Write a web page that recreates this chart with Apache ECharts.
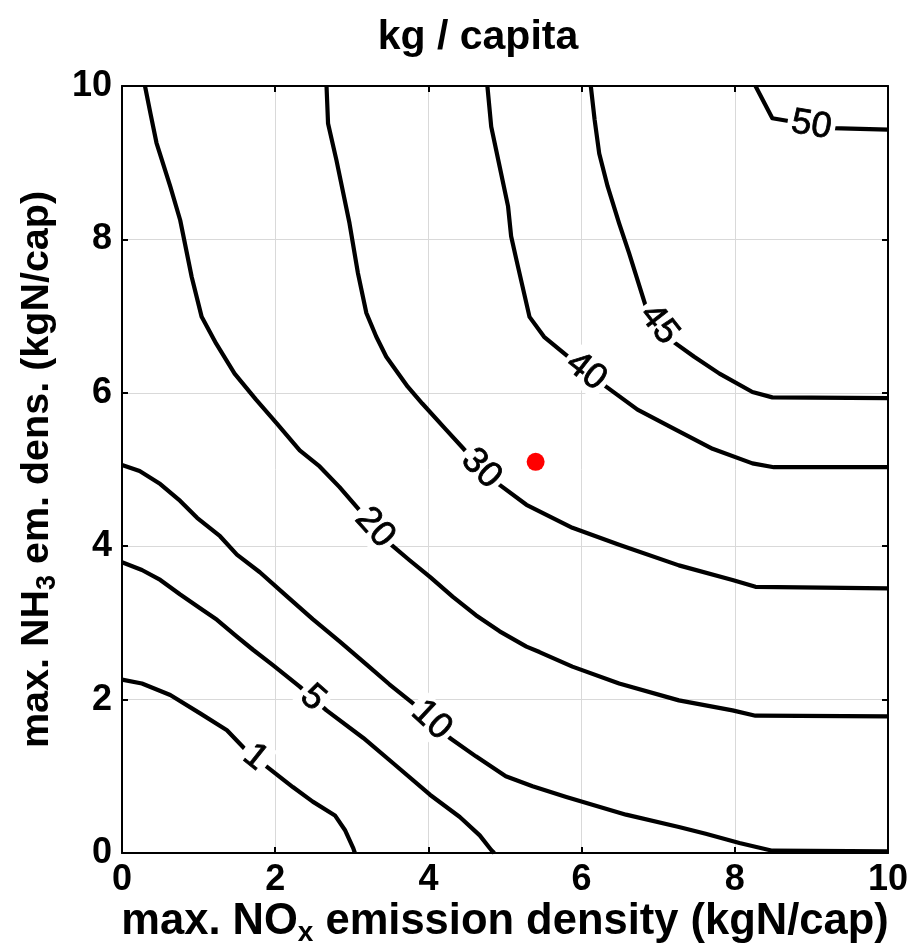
<!DOCTYPE html>
<html>
<head>
<meta charset="utf-8">
<script src="https://cdn.jsdelivr.net/npm/echarts@6.0.0/dist/echarts.min.js"></script>
<style>
html,body{margin:0;padding:0;background:#fff;overflow:hidden;}
#chart{width:916px;height:946px;}
</style>
</head>
<body>
<div id="chart"></div>
<script>
// ---- data ----
const xTicks = [0, 2, 4, 6, 8, 10];
const yTicks = [0, 2, 4, 6, 8, 10];
const levels = ['1', '5', '10', '20', '30', '40', '45', '50'];

const c1 = [[0,2.26],[0.26,2.21],[0.63,2.06],[1.02,1.82],[1.37,1.60],[1.62,1.34],[1.74,1.25],[1.86,1.15],[2.23,0.86],[2.49,0.67],[2.78,0.49],[2.91,0.30],[3.02,0.06],[3.04,0]];
const c5 = [[0,3.79],[0.26,3.69],[0.50,3.56],[0.76,3.37],[1.02,3.19],[1.24,3.04],[1.50,2.82],[1.71,2.65],[1.97,2.45],[2.32,2.17],[2.49,2.02],[2.67,1.86],[3.15,1.50],[3.54,1.17],[4.02,0.76],[4.41,0.47],[4.67,0.23],[4.82,0.04],[4.86,0]];
const c10 = [[0,5.06],[0.23,4.98],[0.50,4.81],[0.76,4.59],[0.98,4.37],[1.28,4.13],[1.50,3.89],[1.80,3.66],[2.15,3.35],[2.49,3.05],[2.84,2.76],[3.19,2.46],[3.49,2.20],[3.80,1.95],[4.04,1.73],[4.28,1.50],[4.62,1.26],[5.01,1.00],[5.36,0.87],[5.80,0.73],[6.58,0.50],[7.27,0.34],[7.62,0.25],[8.06,0.13],[8.49,0.03],[10,0.02]];
const c20 = [[0.30,10],[0.37,9.65],[0.45,9.26],[0.63,8.69],[0.76,8.25],[0.91,7.51],[1.04,6.99],[1.23,6.64],[1.47,6.25],[1.75,5.91],[2.02,5.60],[2.32,5.25],[2.58,5.04],[2.84,4.77],[3.10,4.47],[3.30,4.24],[3.49,4.04],[3.75,3.82],[4.02,3.60],[4.32,3.34],[4.62,3.10],[4.93,2.89],[5.28,2.69],[5.45,2.62],[5.88,2.43],[6.49,2.21],[7.27,1.99],[7.97,1.86],[8.27,1.79],[10,1.78]];
const c30 = [[2.67,10],[2.69,9.51],[2.80,9.03],[2.97,8.21],[3.08,7.56],[3.19,7.04],[3.32,6.73],[3.45,6.47],[3.73,6.08],[3.92,5.86],[4.23,5.52],[4.45,5.28],[4.69,5.01],[4.93,4.80],[5.28,4.54],[5.88,4.24],[6.49,4.02],[7.27,3.75],[7.97,3.56],[8.27,3.47],[10,3.45]];
const c40 = [[4.77,10],[4.82,9.47],[4.93,8.95],[5.04,8.43],[5.08,8.04],[5.15,7.73],[5.32,6.99],[5.51,6.73],[5.80,6.49],[6.06,6.28],[6.32,6.08],[6.73,5.78],[7.19,5.54],[7.71,5.27],[8.23,5.08],[8.51,5.03],[10,5.03]];
const c45 = [[6.12,10],[6.17,9.56],[6.23,9.12],[6.34,8.69],[6.49,8.21],[6.62,7.82],[6.84,7.12],[7.01,6.89],[7.19,6.67],[7.47,6.47],[7.80,6.25],[8.23,6.01],[8.49,5.94],[10,5.93]];
const c50 = [[8.27,10],[8.49,9.58],[8.72,9.54],[9.00,9.49],[9.27,9.45],[10,9.43]];
// index of the point in each contour where its label sits
const labelAt = [6, 10, 14, 15, 12, 9, 7, 3];
const marker = [[5.40, 5.10]];

const contours = [c1, c5, c10, c20, c30, c40, c45, c50];
const FONT = "'Liberation Sans', Arial, Helvetica, sans-serif";

const chart = echarts.init(document.getElementById('chart'), null, {renderer: 'canvas', width: 916, height: 946});

function axisCommon(show) {
  return {
    type: 'value', min: 0, max: 10, interval: 2,
    axisLine: {show: true, onZero: false, lineStyle: {color: '#000', width: 2}},
    axisTick: {show: true, inside: true, length: 6, lineStyle: {color: '#000', width: 2}},
    axisLabel: {show: show, color: '#000', fontSize: 36, fontWeight: 'bold', fontFamily: FONT},
    splitLine: {show: show, lineStyle: {color: '#d9d9d9', width: 1}}
  };
}

const lineSeries = contours.map(function (c, i) {
  return {
    type: 'line', name: levels[i], data: c, showSymbol: false, symbol: 'none',
    smooth: false, clip: true, z: 2, silent: true,
    lineStyle: {color: '#000', width: 4.2, join: 'round'}
  };
});

function buildOption(labelData) {
  return {
    animation: false,
    backgroundColor: '#fff',
    title: {
      text: 'kg / capita', left: 473, top: 12, textAlign: 'center',
      textStyle: {fontSize: 41, fontWeight: 'bold', color: '#000', fontFamily: FONT}
    },
    grid: {left: 122, right: 28, top: 86, bottom: 93, containLabel: false, outerBoundsMode: 'none'},
    xAxis: [
      Object.assign(axisCommon(true), {
        position: 'bottom',
        axisLabel: {show: true, color: '#000', fontSize: 36, fontWeight: 'bold', fontFamily: FONT, margin: 9},
        name: '{m|max. NO}{s|x}{m| emission density (kgN/cap)}',
        nameLocation: 'middle', nameGap: 45, nameMoveOverlap: false,
        nameTextStyle: {
          color: '#000', fontFamily: FONT,
          rich: {
            m: {fontSize: 43.5, fontWeight: 'bold', fontFamily: FONT, color: '#000', lineHeight: 48},
            s: {fontSize: 28, fontWeight: 'bold', fontFamily: FONT, color: '#000', lineHeight: 30, padding: [23, 0, 0, 0]}
          }
        }
      }),
      Object.assign(axisCommon(false), {position: 'top'})
    ],
    yAxis: [
      Object.assign(axisCommon(true), {
        position: 'left',
        axisLabel: {show: true, color: '#000', fontSize: 36, fontWeight: 'bold', fontFamily: FONT, margin: 10},
        name: '{m|max. NH}{s|3}{m| em. dens. (kgN/cap)}',
        nameLocation: 'middle', nameGap: 62, nameRotate: 90, nameMoveOverlap: false,
        nameTextStyle: {
          color: '#000', fontFamily: FONT,
          rich: {
            m: {fontSize: 39.5, fontWeight: 'bold', fontFamily: FONT, color: '#000', lineHeight: 46},
            s: {fontSize: 27, fontWeight: 'bold', fontFamily: FONT, color: '#000', lineHeight: 30, padding: [22, 0, 0, 0]}
          }
        }
      }),
      Object.assign(axisCommon(false), {position: 'right'})
    ],
    series: lineSeries.concat([
      {
        type: 'scatter', name: 'labels', data: labelData, symbolSize: 0.5, z: 5, silent: true,
        itemStyle: {color: '#ffffff', opacity: 1},
        label: {
          show: true, position: 'inside', opacity: 1,
          formatter: function (p) { return '{t|' + p.data.text + '}'; },
          rich: {
            t: {color: '#000000', fontSize: 36, fontFamily: FONT, fontWeight: 'normal',
                textBorderColor: '#000000', textBorderWidth: 0.8,
                backgroundColor: '#ffffff', padding: [0, 4]}
          }
        }
      },
      {
        type: 'scatter', name: 'point', data: marker, symbol: 'circle', symbolSize: 18, z: 6,
        itemStyle: {color: '#ff0000', opacity: 1}
      }
    ])
  };
}

// first pass without labels, to get the pixel geometry for label rotation
chart.setOption(buildOption([]));
const labelData = contours.map(function (c, i) {
  const k = labelAt[i];
  const a = chart.convertToPixel({gridIndex: 0}, c[k - 1]);
  const b = chart.convertToPixel({gridIndex: 0}, c[k + 1]);
  const ang = Math.atan2(-(b[1] - a[1]), b[0] - a[0]) * 180 / Math.PI;
  return {value: c[k], text: levels[i], label: {rotate: ang}};
});
chart.setOption(buildOption(labelData), true);
</script>
</body>
</html>
